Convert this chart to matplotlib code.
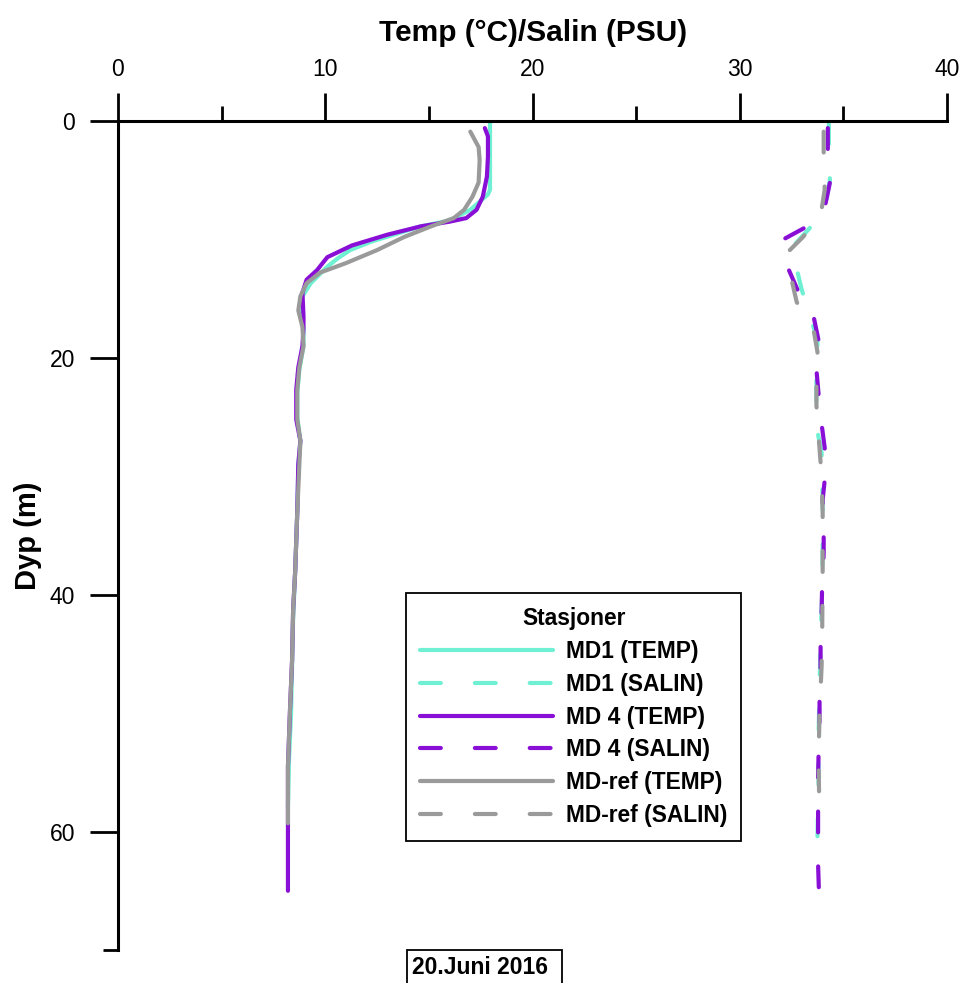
import matplotlib

matplotlib.use("Agg")
import matplotlib.pyplot as plt
from matplotlib.patches import Rectangle

plt.rcParams["font.family"] = ["Liberation Sans", "DejaVu Sans"]
plt.rcParams["lines.scale_dashes"] = False

# temperature profiles (depth in m, temp in degC)
md1_temp_depth = [0.2, 1, 3, 5.8, 6.2, 7.5, 8.4, 8.9, 10.2, 10.9, 11.6, 12.3, 13.7, 14.8, 16,
                  17.5, 19, 21, 23, 25, 27, 29, 33, 38, 42, 46, 50, 54, 58]
md1_temp = [17.95, 17.95, 17.95, 17.95, 17.85, 17.0, 16.0, 14.6, 12.2, 11.2, 10.6, 10.1, 9.3,
            8.9, 8.8, 8.95, 8.95, 8.75, 8.65, 8.65, 8.8, 8.7, 8.65, 8.55, 8.45, 8.4, 8.35,
            8.25, 8.2]

md4_temp_depth = [0.6, 1.3, 3, 4.7, 6.4, 7.5, 8.2, 8.5, 8.9, 9.6, 10.5, 11.5, 12.6, 13.4, 14.5,
                  16.5, 17.5, 19, 20.8, 22.7, 25.2, 27, 29, 33, 38, 41.3, 45.5, 49.7, 54.5,
                  59.3, 62, 65]
md4_temp = [17.7, 17.85, 17.85, 17.8, 17.6, 17.3, 16.8, 16.0, 14.6, 13.0, 11.3, 10.1, 9.6, 9.1,
            8.9, 8.95, 8.95, 8.9, 8.7, 8.6, 8.6, 8.8, 8.7, 8.65, 8.55, 8.45, 8.4, 8.3, 8.2,
            8.2, 8.2, 8.2]

ref_temp_depth = [0.9, 2.2, 3.3, 5.2, 6.4, 7.5, 8.2, 8.9, 9.8, 10.9, 12.0, 12.8, 13.7, 14.8,
                  16.0, 17.4, 19, 20.8, 22.7, 25.2, 27, 29, 33, 38, 41.3, 45.5, 49.7, 54.5, 59.3]
ref_temp = [17.0, 17.4, 17.45, 17.4, 17.1, 16.7, 16.2, 15.1, 13.8, 12.5, 11.0, 9.75, 9.1, 8.8,
            8.7, 8.9, 8.95, 8.75, 8.65, 8.65, 8.8, 8.75, 8.65, 8.55, 8.45, 8.4, 8.3, 8.2, 8.2]

# salinity profiles (depth in m, salinity in PSU)
md1_salin_depth = [0.2, 2, 5, 7, 9, 10.9, 12.5, 14.3, 16.5, 18.5, 22, 25.8, 28, 32, 36, 40, 44,
                   48, 52, 56, 60.4]
md1_salin = [34.3, 34.3, 34.35, 34.15, 33.4, 32.4, 32.75, 33.0, 33.4, 33.75, 33.7, 33.7, 33.95,
             34.0, 34.0, 33.97, 33.9, 33.85, 33.8, 33.8, 33.75]

md4_salin_depth = [0.6, 2.6, 5.2, 7.3, 9.0, 10.0, 12.3, 14.3, 16.4, 18.5, 21, 23, 25.6, 27.6,
                   30.3, 32, 35, 36.5, 39.6, 41.5, 44, 46, 49, 50.5, 53.7, 55.4, 58, 60.4,
                   62.8, 65]
md4_salin = [34.25, 34.25, 34.35, 34.1, 33.15, 32.1, 32.3, 32.8, 33.55, 33.8, 33.7, 33.8, 33.95,
             34.1, 34.1, 34.0, 34.05, 34.05, 33.97, 33.95, 33.9, 33.9, 33.85, 33.85, 33.8,
             33.78, 33.78, 33.78, 33.78, 33.82]

ref_salin_depth = [0.9, 3.3, 5.8, 8, 9.8, 11.1, 13.4, 15.3, 17.5, 19.5, 22, 24, 26.5, 30, 33,
                   38, 42.7, 46, 50, 54, 57, 59.3]
ref_salin = [34.05, 34.05, 34.1, 33.9, 33.05, 32.3, 32.5, 32.75, 33.55, 33.75, 33.7, 33.7, 33.8,
             33.95, 34.0, 34.0, 33.98, 33.95, 33.85, 33.8, 33.83, 33.83]

x_ticks = [0, 10, 20, 30, 40]
x_minor = [5, 15, 25, 35]
y_ticks = [0, 20, 40, 60]
y_minor = [70]

C_MD1 = "#6ff0d2"
C_MD4 = "#8a0fd6"
C_REF = "#9a9a9a"
LW = 3.0
DASH = (15, 24.5)

fig = plt.figure(figsize=(9.6, 9.83), dpi=100)
ax = fig.add_axes([118 / 960, 1 - 950 / 983, (947 - 118) / 960, (950 - 121) / 983])

style = dict(lw=LW, solid_capstyle="round", dash_capstyle="round")
l1, = ax.plot(md1_temp, md1_temp_depth, color=C_MD1, **style)
l2, = ax.plot(md1_salin, md1_salin_depth, color=C_MD1, dashes=DASH, **style)
l3, = ax.plot(md4_temp, md4_temp_depth, color=C_MD4, **style)
l4, = ax.plot(md4_salin, md4_salin_depth, color=C_MD4, dashes=DASH, **style)
l5, = ax.plot(ref_temp, ref_temp_depth, color=C_REF, **style)
l6, = ax.plot(ref_salin, ref_salin_depth, color=C_REF, dashes=DASH, **style)

ax.set_xlim(0, 40)
ax.set_ylim(70, 0)
for side in ("right", "bottom"):
    ax.spines[side].set_visible(False)
for side in ("top", "left"):
    ax.spines[side].set_linewidth(2.2)

ax.xaxis.tick_top()
ax.set_xticks(x_ticks)
ax.set_xticks(x_minor, minor=True)
ax.set_yticks(y_ticks)
ax.set_yticks(y_minor, minor=True)
ax.tick_params(which="major", direction="out", length=20, width=2.0, labelsize=16.5)
ax.tick_params(axis="x", which="major", pad=9)
ax.tick_params(axis="y", which="major", pad=11)
ax.tick_params(which="minor", direction="out", length=10.5, width=2.0)

fig.text(533 / 960, 1 - 33 / 983, "Temp (\u00b0C)/Salin (PSU)", ha="center", va="center",
         fontsize=21.5, fontweight="bold")
fig.text(28 / 960, 1 - 536 / 983, "Dyp (m)", ha="center", va="center", rotation=90,
         fontsize=21, fontweight="bold")

labels = ["MD1 (TEMP)", "MD1 (SALIN)", "MD 4 (TEMP)", "MD 4 (SALIN)",
          "MD-ref (TEMP)", "MD-ref (SALIN)"]
leg = ax.legend([l1, l2, l3, l4, l5, l6], labels, title="Stasjoner", loc="upper left",
                bbox_to_anchor=(406 / 960, 1 - 593 / 983), bbox_transform=fig.transFigure,
                frameon=True, fancybox=False, edgecolor="black", framealpha=1,
                prop=dict(weight="bold", size=16.4),
                title_fontproperties=dict(weight="bold", size=16.4),
                handlelength=5.85, handletextpad=0.55, labelspacing=0.43, borderpad=0.62,
                borderaxespad=0)
leg.get_frame().set_linewidth(1.3)

fig.patches.append(Rectangle((407 / 960, 1 - 995 / 983), (562 - 407) / 960, 45 / 983,
                             transform=fig.transFigure, fill=False, edgecolor="black",
                             lw=1.3))
fig.text(412 / 960, 1 - 968 / 983, "20.Juni 2016", ha="left", va="center",
         fontsize=16.5, fontweight="bold")

fig.savefig("out.png", dpi=100)
